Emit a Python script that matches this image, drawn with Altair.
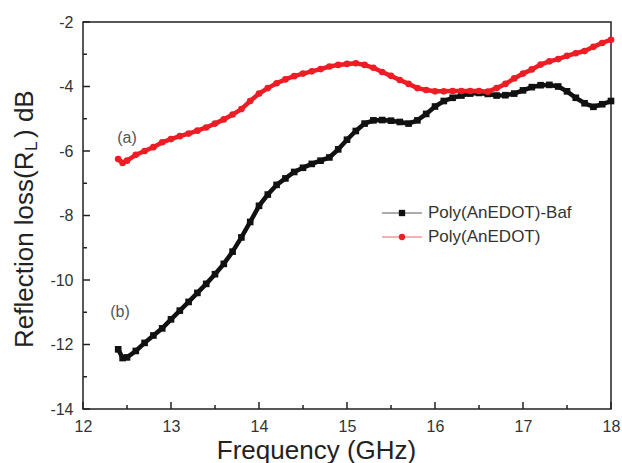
import altair as alt
import pandas as pd

# ---- data ----
freq_b = [12.4, 12.45, 12.5, 12.6, 12.7, 12.8, 12.9, 13.0, 13.1, 13.2, 13.3, 13.4, 13.5, 13.6, 13.7,
          13.8, 13.9, 14.0, 14.1, 14.2, 14.3, 14.4, 14.5, 14.6, 14.7, 14.8, 14.9, 15.0, 15.1, 15.2,
          15.3, 15.4, 15.5, 15.6, 15.7, 15.8, 15.9, 16.0, 16.1, 16.2, 16.3, 16.4, 16.5, 16.6, 16.7,
          16.8, 16.9, 17.0, 17.1, 17.2, 17.3, 17.4, 17.5, 17.6, 17.7, 17.8, 17.9, 18.0]
rl_baf = [-12.15, -12.42, -12.4, -12.2, -11.95, -11.72, -11.5, -11.22, -10.95, -10.68, -10.4, -10.12,
          -9.82, -9.5, -9.12, -8.68, -8.2, -7.7, -7.35, -7.05, -6.85, -6.65, -6.52, -6.4, -6.3, -6.2,
          -5.95, -5.65, -5.38, -5.15, -5.05, -5.04, -5.06, -5.1, -5.15, -5.05, -4.85, -4.62, -4.45,
          -4.35, -4.28, -4.22, -4.2, -4.23, -4.28, -4.27, -4.22, -4.12, -4.02, -3.96, -3.95, -4.0,
          -4.15, -4.35, -4.52, -4.63, -4.55, -4.45]

freq_a = freq_b
rl_pure = [-6.25, -6.37, -6.3, -6.12, -6.0, -5.88, -5.73, -5.63, -5.54, -5.46, -5.37, -5.27, -5.15,
           -5.02, -4.87, -4.7, -4.45, -4.22, -4.05, -3.9, -3.78, -3.68, -3.6, -3.53, -3.46, -3.38,
           -3.33, -3.3, -3.28, -3.33, -3.42, -3.55, -3.67, -3.8, -3.92, -4.05, -4.11, -4.15, -4.15,
           -4.14, -4.14, -4.14, -4.14, -4.16, -4.05, -3.92, -3.75, -3.6, -3.47, -3.32, -3.22, -3.15,
           -3.05, -2.97, -2.9, -2.77, -2.65, -2.55]

series_names = ["Poly(AnEDOT)-Baf", "Poly(AnEDOT)"]
series_colors = ["#111111", "#ee1c24"]

x_major = [12, 13, 14, 15, 16, 17, 18]
x_minor = [12.5, 13.5, 14.5, 15.5, 16.5, 17.5]
y_major = [-14, -12, -10, -8, -6, -4, -2]
y_minor = [-13, -11, -9, -7, -5, -3]

annot_text = ["(a)", "(b)"]
annot_x = [12.5, 12.42]
annot_y = [-5.6, -11.0]

W, H = 528, 387

df_b = pd.DataFrame({"freq": freq_b, "value": rl_baf})
df_a = pd.DataFrame({"freq": freq_a, "value": rl_pure})

xs = alt.Scale(domain=[12, 18], nice=False, zero=False)
ys = alt.Scale(domain=[-14, -2], nice=False, zero=False)

x_axis = alt.Axis(values=x_major, ticks=False, domain=False, grid=False, labelFontSize=16,
                  labelColor="#333333", labelFont="Liberation Sans", labelPadding=9,
                  labelFlush=False, labelOverlap=False,
                  title="Frequency (GHz)", titleFontSize=26, titleFont="Liberation Sans",
                  titleFontWeight="normal", titleColor="#222222", titlePadding=3,
                  titleX=233, titleAlign="center",
                  labelExpr="'' + datum.value")
y_axis = alt.Axis(values=y_major, ticks=False, domain=False, grid=False, labelFontSize=16,
                  labelColor="#333333", labelFont="Liberation Sans", labelPadding=10,
                  labelFlush=False, labelOverlap=False,
                  title=None, labelExpr="'' + datum.value")

X = alt.X("freq:Q", scale=xs, axis=x_axis, title="Frequency (GHz)")
Y = alt.Y("value:Q", scale=ys, axis=y_axis, title=None)

line_b = alt.Chart(df_b).mark_line(color=series_colors[0], strokeWidth=4.5).encode(x=X, y=Y)
pts_b = alt.Chart(df_b).mark_point(shape="square", filled=True, color=series_colors[0], size=44,
                                   opacity=1).encode(x=X, y=Y)
line_a = alt.Chart(df_a).mark_line(color=series_colors[1], strokeWidth=4.5).encode(x=X, y=Y)
pts_a = alt.Chart(df_a).mark_point(shape="circle", filled=True, color=series_colors[1], size=44,
                                   opacity=1).encode(x=X, y=Y)

# inward ticks
tx_major = alt.Chart(pd.DataFrame({"freq": x_major})).mark_rule(color="#222", strokeWidth=1.5).encode(
    x=X, y=alt.value(H), y2=alt.value(H - 7))
tx_minor = alt.Chart(pd.DataFrame({"freq": x_minor})).mark_rule(color="#222", strokeWidth=1.5).encode(
    x=X, y=alt.value(H), y2=alt.value(H - 4))
ty_major = alt.Chart(pd.DataFrame({"value": y_major})).mark_rule(color="#222", strokeWidth=1.5).encode(
    y=Y, x=alt.value(0), x2=alt.value(7))
ty_minor = alt.Chart(pd.DataFrame({"value": y_minor})).mark_rule(color="#222", strokeWidth=1.5).encode(
    y=Y, x=alt.value(0), x2=alt.value(4))

# annotations (a), (b)
ann = alt.Chart(pd.DataFrame({"freq": annot_x, "value": annot_y, "t": annot_text})).mark_text(
    fontSize=16, font="Liberation Sans", color="#555555").encode(x=X, y=Y, text="t:N")

# y title with subscript
ytitle_font = dict(font="Liberation Sans", color="#222222", angle=270, baseline="alphabetic")
yt1 = alt.Chart(pd.DataFrame({"t": ["Reflection loss(R"]})).mark_text(
    fontSize=26, align="left", **ytitle_font).encode(text="t:N", x=alt.value(-50), y=alt.value(326))
yt2 = alt.Chart(pd.DataFrame({"t": ["L"]})).mark_text(
    fontSize=17, align="left", **ytitle_font).encode(text="t:N", x=alt.value(-46), y=alt.value(129))
yt3 = alt.Chart(pd.DataFrame({"t": [") dB"]})).mark_text(
    fontSize=26, align="left", **ytitle_font).encode(text="t:N", x=alt.value(-50), y=alt.value(116))

# manual legend
leg_y = [213 - 22, 237 - 22]
leg_x0, leg_x1, leg_xs, leg_xt = 382 - 83, 422 - 83, 402 - 83, 428 - 83
legend_layers = []
for i, (nm, col) in enumerate(zip(series_names, series_colors)):
    d = pd.DataFrame({"t": [nm]})
    legend_layers.append(alt.Chart(d).mark_rule(color=col, strokeWidth=1, opacity=0.7).encode(
        x=alt.value(leg_x0), x2=alt.value(leg_x1), y=alt.value(leg_y[i])))
    legend_layers.append(alt.Chart(d).mark_point(shape="square" if i == 0 else "circle", filled=True,
                                                 color=col, size=40, opacity=1).encode(
        x=alt.value(leg_xs), y=alt.value(leg_y[i])))
    legend_layers.append(alt.Chart(d).mark_text(align="left", baseline="middle", fontSize=17,
                                                font="Liberation Sans", color="#333333").encode(
        text="t:N", x=alt.value(leg_xt), y=alt.value(leg_y[i])))

chart = alt.layer(
    line_b, pts_b, line_a, pts_a, tx_major, tx_minor, ty_major, ty_minor, ann, yt1, yt2, yt3,
    *legend_layers
).properties(
    width=W, height=H,
    autosize=alt.AutoSizeParams(type="none"),
    padding={"left": 83, "top": 22, "right": 11, "bottom": 54},
    background="white",
).configure_view(stroke="#222222", strokeWidth=1.5)

chart.save("out.html", embed_options={"renderer": "svg", "actions": False})
